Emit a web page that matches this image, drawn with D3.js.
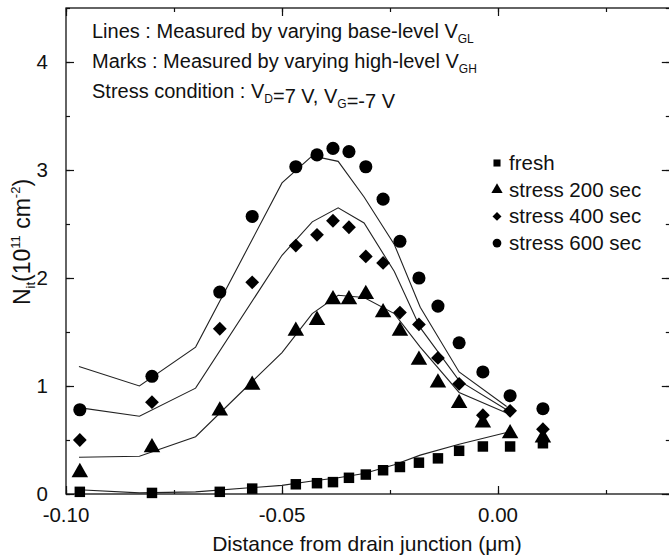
<!DOCTYPE html>
<html><head><meta charset="utf-8">
<script src="https://cdn.jsdelivr.net/npm/d3@7"></script>
<style>body{margin:0;background:#fff}svg{display:block}text{font-family:"Liberation Sans",Arial,sans-serif;fill:#111}</style>
</head><body><svg id="c" width="669" height="558"></svg>
<script>
const markX = [-0.0968,-0.0801,-0.0644,-0.0569,-0.0468,-0.0419,-0.0382,-0.0345,-0.0306,-0.0266,-0.0227,-0.0183,-0.0139,-0.0090,-0.0035,0.0028,0.0104];
const fresh = [0.02,0.01,0.02,0.05,0.09,0.10,0.11,0.15,0.18,0.22,0.25,0.29,0.33,0.40,0.44,0.44,0.47];
const s200  = [0.20,0.43,0.77,1.01,1.51,1.61,1.80,1.80,1.85,1.68,1.51,1.24,1.03,0.84,0.66,0.56,0.52];
const s400  = [0.50,0.85,1.53,1.96,2.30,2.40,2.53,2.47,2.20,2.14,1.68,1.57,1.26,1.02,0.73,0.77,0.60];
const s600  = [0.78,1.09,1.87,2.57,3.03,3.14,3.20,3.17,3.03,2.73,2.34,2.00,1.74,1.40,1.13,0.91,0.79];

const lineX   = [-0.097,-0.083,-0.070,-0.050,-0.043,-0.037,-0.031,-0.024,-0.018,-0.009,0.002];
const line0   = [0.04,0.01,0.02,0.08,0.12,0.15,0.19,0.27,0.36,0.46,0.57];
const line200 = [0.34,0.35,0.53,1.31,1.67,1.84,1.82,1.67,1.36,0.94,0.75];
const line400 = [0.80,0.72,0.98,2.21,2.52,2.65,2.51,2.06,1.54,1.05,0.78];
const line600 = [1.18,1.00,1.36,2.88,3.13,3.08,2.75,2.31,1.73,1.13,0.81];

const seriesNames = ["fresh","stress 200 sec","stress 400 sec","stress 600 sec"];
const seriesSymbols = [d3.symbolSquare, d3.symbolTriangle, d3.symbolSquare, d3.symbolCircle];
const seriesRotate = [0,0,45,0];
const xTicks = [-0.10,-0.05,0.00];
const xTickLabels = ["-0.10","-0.05","0.00"];
const yTicks = [0,1,2,3,4];

const svg = d3.select("#c");
const x = d3.scaleLinear().domain([-0.1,0.04]).range([66,670.8]);
const y = d3.scaleLinear().domain([0,4.5]).range([494,8]);

svg.append("rect").attr("x",66).attr("y",y(4.5)).attr("width",x(0.04)-66).attr("height",494-y(4.5))
  .attr("fill","none").attr("stroke","#111").attr("stroke-width",1.3);

const minorX = d3.range(-0.1,0.0401,0.025);
const minorY = d3.range(0,4.51,0.5);
function tk(g){g.select(".domain").remove();g.selectAll("line").attr("stroke","#111").attr("stroke-width",1.2);g.selectAll("text").remove();}
svg.append("g").attr("transform","translate(0,494)").call(d3.axisBottom(x).tickValues(minorX).tickSize(-4)).call(tk);
svg.append("g").attr("transform","translate(0,494)").call(d3.axisBottom(x).tickValues(xTicks).tickSize(-8)).call(tk);
svg.append("g").attr("transform",`translate(0,${y(4.5)})`).call(d3.axisTop(x).tickValues(minorX).tickSize(-4)).call(tk);
svg.append("g").attr("transform",`translate(0,${y(4.5)})`).call(d3.axisTop(x).tickValues(xTicks).tickSize(-8)).call(tk);
svg.append("g").attr("transform","translate(66,0)").call(d3.axisLeft(y).tickValues(minorY).tickSize(-4)).call(tk);
svg.append("g").attr("transform","translate(66,0)").call(d3.axisLeft(y).tickValues(yTicks).tickSize(-8)).call(tk);
svg.append("g").attr("transform",`translate(${x(0.04)-1},0)`).call(d3.axisRight(y).tickValues(minorY).tickSize(-4)).call(tk);
svg.append("g").attr("transform",`translate(${x(0.04)-1},0)`).call(d3.axisRight(y).tickValues(yTicks).tickSize(-8)).call(tk);

svg.selectAll(".xl").data(xTicks).enter().append("text")
  .attr("x",d=>x(d)).attr("y",522).attr("text-anchor","middle").attr("font-size",20.5)
  .text((d,i)=>xTickLabels[i]);
svg.selectAll(".yl").data(yTicks).enter().append("text")
  .attr("x",48).attr("y",d=>y(d)+7).attr("text-anchor","end").attr("font-size",20.5).text(d=>d);

svg.append("text").attr("x",367).attr("y",551).attr("text-anchor","middle").attr("font-size",21)
  .text("Distance from drain junction (\u03bcm)");
const yt = svg.append("text").attr("transform","translate(30,242) rotate(-90)").attr("text-anchor","middle").attr("font-size",23);
yt.append("tspan").text("N");
yt.append("tspan").attr("font-size",13).attr("dy",5).text("it");
yt.append("tspan").attr("dy",-5).text("(10");
yt.append("tspan").attr("font-size",13).attr("dy",-10).text("11");
yt.append("tspan").attr("dy",10).text(" cm");
yt.append("tspan").attr("font-size",13).attr("dy",-10).text("-2");
yt.append("tspan").attr("dy",10).text(")");

const lineGen = d3.line().x(d=>x(d[0])).y(d=>y(d[1]));
[line0,line200,line400,line600].forEach(arr=>{
  svg.append("path").datum(lineX.map((v,i)=>[v,arr[i]])).attr("d",lineGen)
    .attr("fill","none").attr("stroke","#222").attr("stroke-width",1.1);
});

const sizes = [110,118,95,135];
[fresh,s200,s400,s600].forEach((arr,k)=>{
  const sym = d3.symbol().type(seriesSymbols[k]).size(sizes[k]);
  svg.append("g").selectAll("path").data(markX.map((v,i)=>[v,arr[i]])).enter().append("path")
    .attr("d",sym).attr("transform",d=>`translate(${x(d[0])},${y(d[1])}) rotate(${seriesRotate[k]})`).attr("fill","#000");
});

const lgSizes = [50,55,40,60];
const lg = svg.append("g");
seriesNames.forEach((n,i)=>{
  const yy = 163 + i*26.7;
  lg.append("path").attr("d",d3.symbol().type(seriesSymbols[i]).size(lgSizes[i])()).attr("transform",`translate(497,${yy}) rotate(${seriesRotate[i]})`).attr("fill","#000");
  lg.append("text").attr("x",509).attr("y",yy+7).attr("font-size",20.5).text(n);
});

function annot(yb, parts){
  const t = svg.append("text").attr("x",92).attr("y",yb).attr("font-size",20);
  parts.forEach(p=>{
    if(p.sub){ t.append("tspan").attr("font-size",12).attr("dy",5).text(p.sub); t.append("tspan").attr("dy",-5).text(""); }
    else t.append("tspan").text(p.t);
  });
}
annot(38,[{t:"Lines : Measured by varying base-level V"},{sub:"GL"}]);
annot(68,[{t:"Marks : Measured by varying high-level V"},{sub:"GH"}]);
annot(98,[{t:"Stress condition : V"},{sub:"D"},{t:"=7 V, V"},{sub:"G"},{t:"=-7 V"}]);
</script></body></html>
